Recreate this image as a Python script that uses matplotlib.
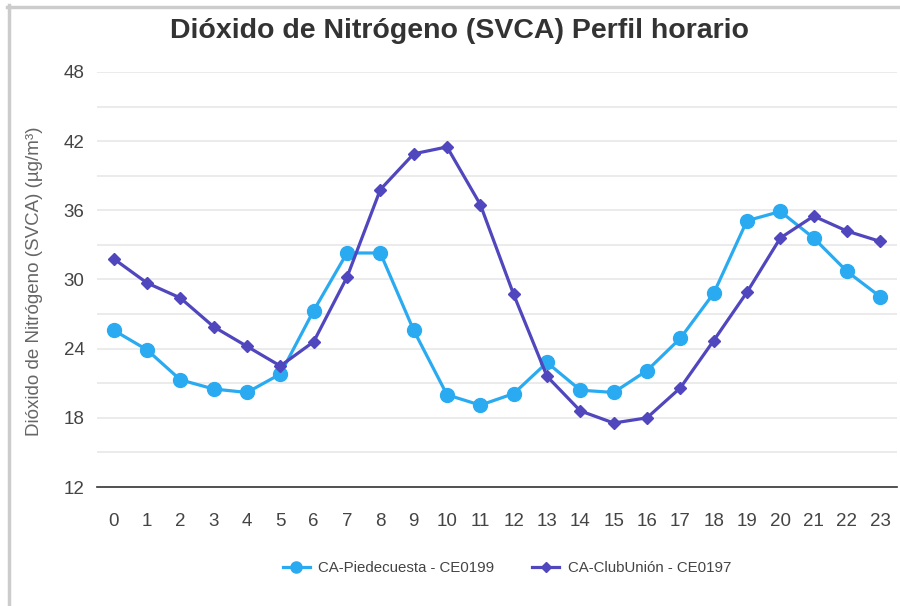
import matplotlib
matplotlib.use("Agg")
import matplotlib.pyplot as plt
from matplotlib.lines import Line2D

plt.rcParams['font.family'] = ['Liberation Sans', 'DejaVu Sans']

hours = list(range(24))
piedecuesta = [25.6, 23.9, 21.3, 20.5, 20.2, 21.8, 27.3, 32.3, 32.3, 25.6, 20.0, 19.1,
               20.1, 22.8, 20.4, 20.2, 22.1, 24.9, 28.8, 35.1, 35.9, 33.6, 30.7, 28.5]
clubunion = [31.8, 29.7, 28.4, 25.9, 24.2, 22.5, 24.6, 30.2, 37.8, 40.9, 41.5, 36.5,
             28.7, 21.6, 18.6, 17.55, 18.0, 20.6, 24.7, 28.9, 33.6, 35.5, 34.2, 33.3]
yticks = [12, 18, 24, 30, 36, 42, 48]
series_names = ['CA-Piedecuesta - CE0199', 'CA-ClubUnión - CE0197']
title = 'Dióxido de Nitrógeno (SVCA) Perfil horario'
ylabel = 'Dióxido de Nitrógeno (SVCA) (µg/m³)'

c1 = '#2aabf1'
c2 = '#5046bd'

fig = plt.figure(figsize=(9, 6.06), dpi=100)
ax = fig.add_axes([97/900, 1-487/606, 800/900, (487-72)/606])

for y in range(15, 49, 3):
    ax.axhline(y, color='#e8e8e8', lw=1.2, zorder=0)

ax.plot(hours, piedecuesta, color=c1, lw=2.3, marker='o', ms=10, zorder=3,
        label=series_names[0])
ax.plot(hours, clubunion, color=c2, lw=2.3, marker='D', ms=6.5, zorder=4,
        label=series_names[1])

ax.set_xlim(-0.5, 23.5)
ax.set_ylim(12, 48)
ax.set_xticks(hours)
ax.set_yticks(yticks)
ax.tick_params(length=0, labelsize=13.5, labelcolor='#444444')
ax.tick_params(axis='x', pad=19)
ax.tick_params(axis='y', pad=9)
for s in ['top', 'right', 'left']:
    ax.spines[s].set_visible(False)
ax.spines['bottom'].set_color('#333333')
ax.spines['bottom'].set_linewidth(1.2)
ax.spines['bottom'].set_zorder(5)

fig.text(35/900, 1-281/606, ylabel, rotation=90, ha='center', va='center',
         fontsize=13.5, color='#666666')
fig.text(460/900, 1-31/606, title, ha='center', va='center', fontsize=20.5,
         fontweight='bold', color='#333333')

handles = [Line2D([], [], color=c1, lw=2.3, marker='o', ms=8),
           Line2D([], [], color=c2, lw=2.3, marker='D', ms=5.5)]
fig.legend(handles, series_names, loc='center', bbox_to_anchor=(507/900, 1-568/606),
           ncol=2, frameon=False, fontsize=10.8, handlelength=1.8, handletextpad=0.6,
           columnspacing=2.5, labelcolor='#444444')

# gray frame lines (top and left)
fig.add_artist(Line2D([8.5/900, 8.5/900], [0, 1-5/606], color='#cccccc', lw=2.5,
                      transform=fig.transFigure))
fig.add_artist(Line2D([7/900, 1], [1-6.5/606, 1-6.5/606], color='#cccccc', lw=2.5,
                      transform=fig.transFigure))

fig.savefig('out.png', dpi=100, facecolor='white')
